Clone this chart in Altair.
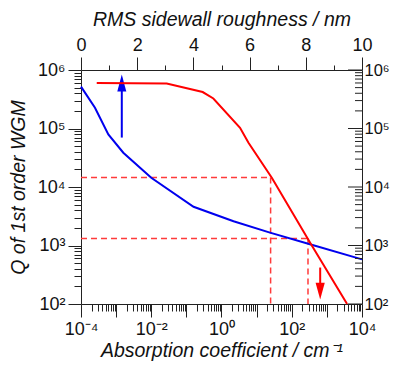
import altair as alt
import pandas as pd

# ---- data ----
# blue curve: Q vs absorption coefficient (bottom axis)
alpha_cm = [1e-4, 2.5e-4, 6e-4, 1.6e-3, 1e-2, 0.16, 2.2, 24, 330, 1e4]
q_alpha = [5.2e5, 2.26e5, 7.9e4, 3.85e4, 1.44e4, 4.6e3, 2.6e3, 1.66e3, 1.05e3, 580]

# red curve: Q vs RMS sidewall roughness (top axis)
rough_nm = [0.56, 3.05, 4.33, 4.71, 5.66, 5.96, 6.79, 8.16, 9.47]
q_rough = [6.0e5, 5.9e5, 4.2e5, 3.26e5, 1.03e5, 5.7e4, 1.44e4, 1.1e3, 100]

# dashed guide lines (in absorption-coefficient / Q units)
guide_x = [1e-4, 25, 1e-4, 290]
guide_x2 = [25, 25, 290, 290]
guide_y = [1.45e4, 1.45e4, 1.32e3, 1.32e3]
guide_y2 = [1.45e4, 100, 1.32e3, 100]

# arrows
arrow_x = [1.45e-3, 645]
arrow_tail = [7e4, 420]
arrow_head = [6e5, 166]

# tick values
q_major = [100, 1000, 10000, 100000, 1000000]
q_ticks = [m * 10 ** e for e in range(2, 6) for m in range(1, 10)] + [1000000]
q_minor = [v for v in q_ticks if v not in q_major]
alpha_ticks = [round(m * 10.0 ** e, 12) for e in range(-4, 4) for m in range(1, 10)] + [1e4]
nm_ticks = list(range(0, 11))

W, H = 281, 234
FONT = "Liberation Sans"
AX = "#222222"
BLUE = "#0000ee"
RED = "#ff0000"
DASH = "#ff3b3b"
LBL = 18

major_test = "abs(log(datum.value)/LN10 - round(log(datum.value)/LN10)) < 0.001"


def xs():
    return alt.Scale(type="log", domain=[1e-4, 1e4], nice=False)


def ys():
    return alt.Scale(type="log", domain=[100, 1e6], nice=False)


bottom_axis = alt.Axis(
    orient="bottom", values=alpha_ticks,
    title="Absorption coefficient / cm⁻¹",
    labelExpr="(" + major_test + ") ? ['10⁻⁴','','10⁻²','','10⁰','','10²','','10⁴'][round(log(datum.value)/LN10)+4] : ''",
    tickSize={"condition": {"test": major_test, "value": 13}, "value": 7},
    labelFlush=False, labelOverlap=False, labelPadding=3, titlePadding=3,
)
left_axis = alt.Axis(
    orient="left", values=q_ticks,
    title="Q of 1st order WGM",
    labelExpr="(" + major_test + ") ? '10' + ['⁰','¹','²','³','⁴','⁵','⁶'][round(log(datum.value)/LN10)] : ''",
    tickSize={"condition": {"test": major_test, "value": 13}, "value": 7},
    labelFlush=False, labelOverlap=False, labelPadding=3, titlePadding=9,
)
top_axis = alt.Axis(
    orient="top", values=nm_ticks,
    title="RMS sidewall roughness / nm",
    labelExpr="datum.value % 2 == 0 ? datum.label : ''",
    tickSize={"condition": {"test": "datum.value % 2 == 0", "value": 13}, "value": 5},
    labelFlush=False, labelOverlap=False, labelPadding=3, titlePadding=7,
)
right_axis = alt.Axis(
    orient="right", values=q_major, title=None,
    labelExpr="'10' + ['⁰','¹','²','³','⁴','⁵','⁶'][round(log(datum.value)/LN10)]",
    ticks=False, tickSize=0, labelFlush=False, labelOverlap=False, labelPadding=2,
    labelFontSize=16.5,
)

blue_df = pd.DataFrame({"a": alpha_cm, "q": q_alpha})
red_df = pd.DataFrame({"nm": rough_nm, "q": q_rough})
guide_df = pd.DataFrame({"a": guide_x, "a2": guide_x2, "q": guide_y, "q2": guide_y2})
arrow_df = pd.DataFrame({"a": arrow_x, "tail": arrow_tail, "head": arrow_head,
                         "c": [BLUE, RED]})
rmaj_df = pd.DataFrame({"q": q_major})
rmin_df = pd.DataFrame({"q": q_minor})

guides = alt.Chart(guide_df).mark_rule(color=DASH, strokeWidth=1.5, strokeDash=[6, 4]).encode(
    x=alt.X("a:Q", scale=xs(), axis=None), x2="a2:Q",
    y=alt.Y("q:Q", scale=ys(), axis=None), y2="q2:Q",
)
blue = alt.Chart(blue_df).mark_line(color=BLUE, strokeWidth=2).encode(
    x=alt.X("a:Q", scale=xs(), axis=bottom_axis),
    y=alt.Y("q:Q", scale=ys(), axis=left_axis),
)
arrow_shafts = alt.Chart(arrow_df).mark_rule(strokeWidth=2).encode(
    x=alt.X("a:Q", scale=xs(), axis=None),
    y=alt.Y("tail:Q", scale=ys(), axis=None), y2="head:Q",
    color=alt.Color("c:N", scale=None),
)
head_up = alt.Chart(arrow_df.iloc[[0]]).mark_point(
    shape="M0,-1L0.53,1L-0.53,1Z", filled=True, size=289, opacity=1, color=BLUE, strokeWidth=0
).encode(x=alt.X("a:Q", scale=xs(), axis=None), y=alt.Y("head:Q", scale=ys(), axis=None))
head_down = alt.Chart(arrow_df.iloc[[1]]).mark_point(
    shape="M0,1L0.55,-1L-0.55,-1Z", filled=True, size=279, opacity=1, color=RED, strokeWidth=0
).encode(x=alt.X("a:Q", scale=xs(), axis=None), y=alt.Y("head:Q", scale=ys(), axis=None))
rtick_major = alt.Chart(rmaj_df).mark_rule(color=AX, strokeWidth=1).encode(
    x=alt.value(W - 14), x2=alt.value(W), y=alt.Y("q:Q", scale=ys(), axis=None))
rtick_minor = alt.Chart(rmin_df).mark_rule(color=AX, strokeWidth=1).encode(
    x=alt.value(W - 7), x2=alt.value(W), y=alt.Y("q:Q", scale=ys(), axis=None))
red = alt.Chart(red_df).mark_line(color=RED, strokeWidth=2).encode(
    x=alt.X("nm:Q", scale=alt.Scale(domain=[0, 10], nice=False), axis=top_axis),
    y=alt.Y("q:Q", scale=ys(), axis=right_axis),
)

chart = alt.layer(
    guides, blue, arrow_shafts, head_up, head_down, rtick_major, rtick_minor, red
).resolve_scale(x="independent", y="independent").properties(
    width=W, height=H,
    autosize=alt.AutoSizeParams(type="none"),
    padding={"left": 73, "top": 62, "right": 28, "bottom": 58},
).configure_view(stroke=None).configure_axis(
    grid=False, domainColor=AX, tickColor=AX, domainWidth=1, tickWidth=1,
    labelFont=FONT, labelFontSize=LBL, labelColor="#111111",
    titleFont=FONT, titleFontSize=19.5, titleFontStyle="italic", titleFontWeight="normal",
    titleColor="#111111",
)

chart.save("out.html", embed_options={"renderer": "svg", "actions": False})
